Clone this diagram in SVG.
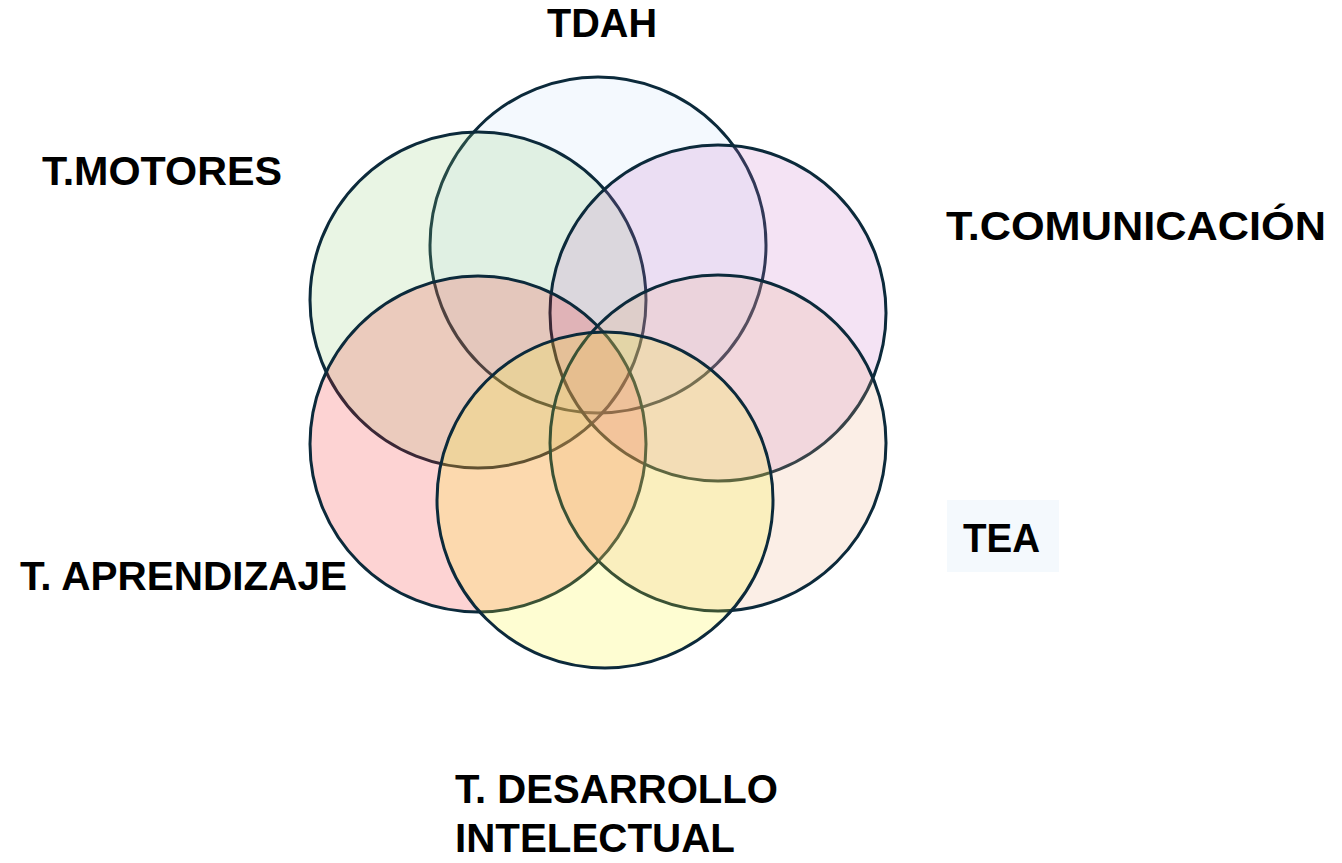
<svg xmlns="http://www.w3.org/2000/svg" width="1342" height="863" viewBox="0 0 1342 863">
<style>
.c{stroke:#0c2a3b;stroke-width:3;fill-opacity:0.2}
.t{font-family:"Liberation Sans",Arial,sans-serif;font-weight:bold;font-size:40px;fill:#000}
</style>
<rect width="1342" height="863" fill="#fff"/>
<g id="tdah"><circle class="c" cx="598" cy="245" r="168" fill="#c8e1fa"/></g>
<g id="motores"><circle class="c" cx="478" cy="300" r="168" fill="#91cd78"/></g>
<g id="comunicacion"><circle class="c" cx="718" cy="313" r="168" fill="#c873c8"/></g>
<g id="aprendizaje"><circle class="c" cx="478" cy="444" r="168" fill="#f52323"/></g>
<g id="tea"><circle class="c" cx="718" cy="443" r="168" fill="#ebaa82"/></g>
<g id="desarrollo"><circle class="c" cx="605" cy="500" r="168" fill="#faf51e"/></g>
<g id="connectors"></g>
<g id="labels">
<text class="t" x="547" y="37" textLength="110" lengthAdjust="spacingAndGlyphs">TDAH</text>
<text class="t" x="42" y="185" textLength="240" lengthAdjust="spacingAndGlyphs">T.MOTORES</text>
<text class="t" x="946" y="240" textLength="380" lengthAdjust="spacingAndGlyphs">T.COMUNICACIÓN</text>
<rect x="947" y="500" width="112" height="72" fill="#f4f9fd"/>
<text class="t" x="963" y="552" textLength="77" lengthAdjust="spacingAndGlyphs">TEA</text>
<text class="t" x="20" y="590" textLength="327" lengthAdjust="spacingAndGlyphs">T. APRENDIZAJE</text>
<text class="t" x="455" y="803" textLength="323" lengthAdjust="spacingAndGlyphs">T. DESARROLLO</text>
<text class="t" x="455" y="852" textLength="280" lengthAdjust="spacingAndGlyphs">INTELECTUAL</text>
</g>
</svg>
